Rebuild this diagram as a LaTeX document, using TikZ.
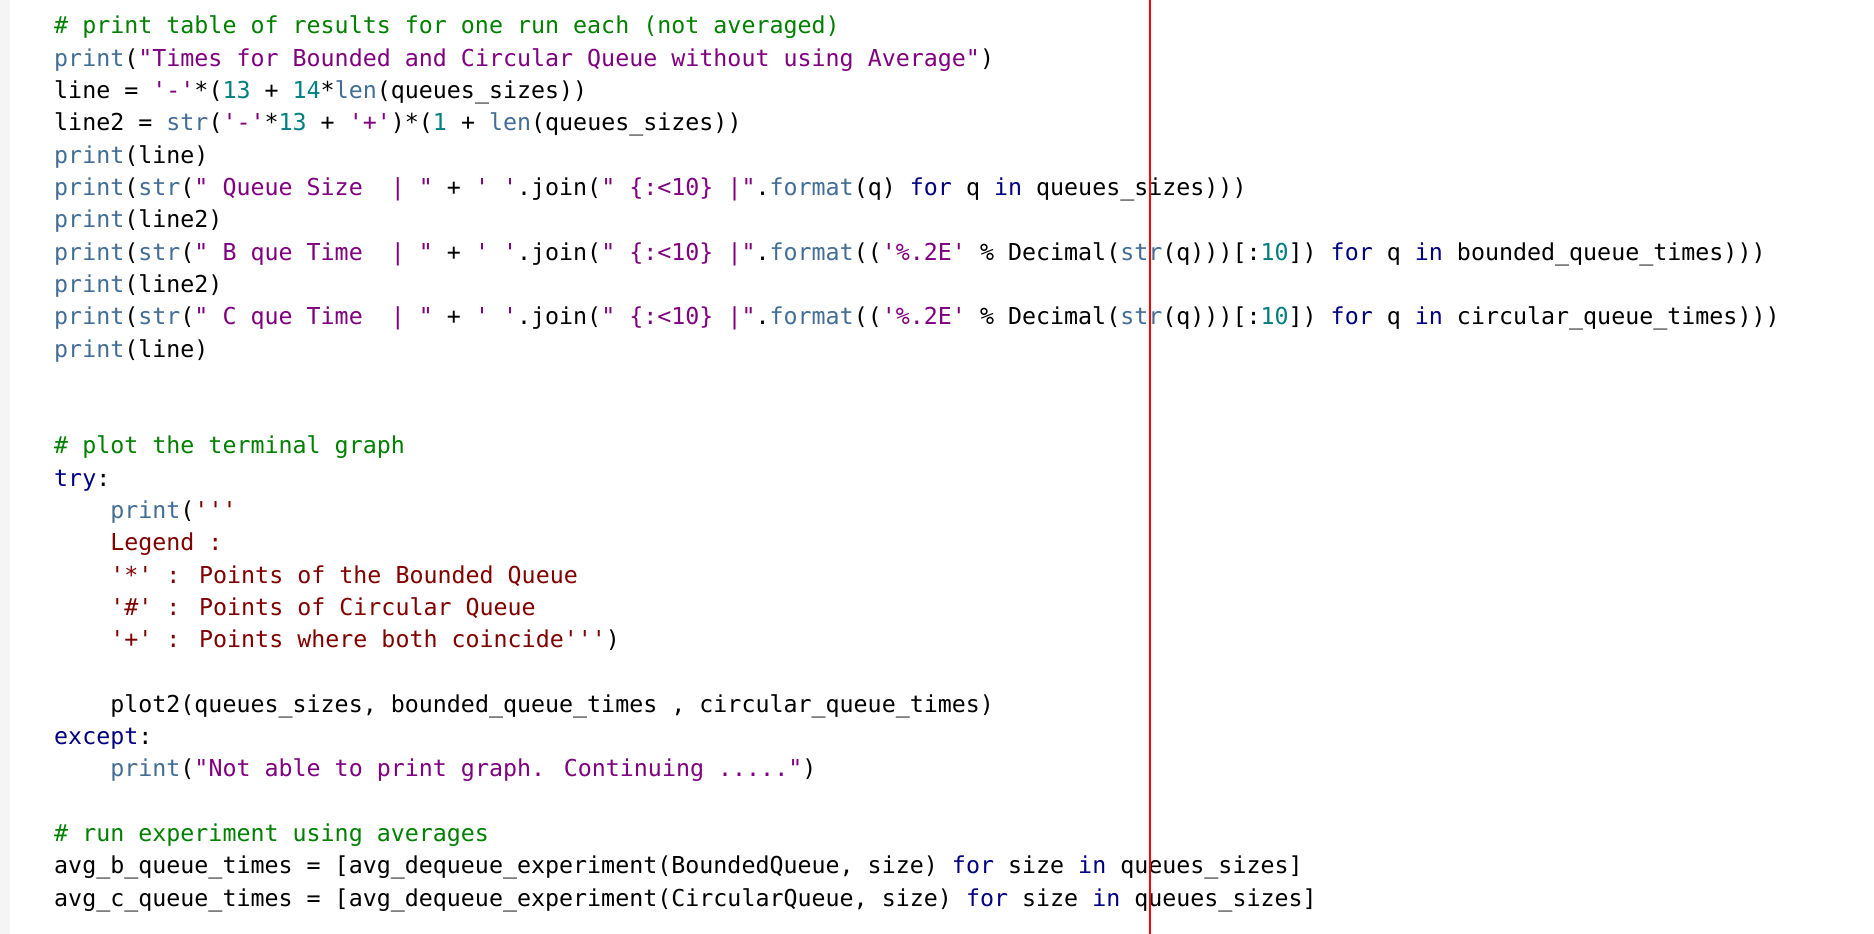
\documentclass[tikz,border=0pt]{standalone}
\usepackage{fontspec}
\newfontfamily\code{DejaVu Sans Mono}
\definecolor{cG}{RGB}{0,128,0}
\definecolor{cP}{RGB}{128,0,128}
\definecolor{cB}{RGB}{66,110,150}
\definecolor{cN}{RGB}{0,128,128}
\definecolor{cK}{RGB}{0,0,128}
\definecolor{cR}{RGB}{128,0,0}
\newcommand\G[1]{\textcolor{cG}{#1}}
\newcommand\Pq[1]{\textcolor{cP}{#1}}
\newcommand\Bf[1]{\textcolor{cB}{#1}}
\newcommand\Nm[1]{\textcolor{cN}{#1}}
\newcommand\Kw[1]{\textcolor{cK}{#1}}
\newcommand\Rs[1]{\textcolor{cR}{#1}}
\begin{document}
\begin{tikzpicture}[x=1pt,y=1pt,
  ln/.style={anchor=base west,inner sep=0,font=\code\fontsize{23.3}{28}\selectfont}]
\useasboundingbox (0,0) rectangle (1874,-934);
\fill[white] (0,0) rectangle (1874,-934);
\fill[gray!8] (0,0) rectangle (10,-934);
\def\L#1#2{\node[ln] (l#1) at (54,{-34-32.3*#1}) {#2};}
\L{0}{\G{\# print table of results for one run each (not averaged)}}
\L{1}{\Bf{print}(\Pq{"Times for Bounded and Circular Queue without using Average"})}
\L{2}{line = \Pq{'-'}*(\Nm{13} + \Nm{14}*\Bf{len}(queues\_sizes))}
\L{3}{line2 = \Bf{str}(\Pq{'-'}*\Nm{13} + \Pq{'+'})*(\Nm{1} + \Bf{len}(queues\_sizes))}
\L{4}{\Bf{print}(line)}
\L{5}{\Bf{print}(\Bf{str}(\Pq{"~Queue Size~~|~"} + \Pq{'~'}.join(\Pq{"~\{:<10\}~|"}.\Bf{format}(q) \Kw{for} q \Kw{in} queues\_sizes)))}
\L{6}{\Bf{print}(line2)}
\L{7}{\Bf{print}(\Bf{str}(\Pq{"~B que Time~~|~"} + \Pq{'~'}.join(\Pq{"~\{:<10\}~|"}.\Bf{format}((\Pq{'\%.2E'} \% Decimal(\Bf{str}(q)))[:\Nm{10}]) \Kw{for} q \Kw{in} bounded\_queue\_times)))}
\L{8}{\Bf{print}(line2)}
\L{9}{\Bf{print}(\Bf{str}(\Pq{"~C que Time~~|~"} + \Pq{'~'}.join(\Pq{"~\{:<10\}~|"}.\Bf{format}((\Pq{'\%.2E'} \% Decimal(\Bf{str}(q)))[:\Nm{10}]) \Kw{for} q \Kw{in} circular\_queue\_times)))}
\L{10}{\Bf{print}(line)}
\L{13}{\G{\# plot the terminal graph}}
\L{14}{\Kw{try}:}
\L{15}{~~~~\Bf{print}(\Rs{'''}}
\L{16}{~~~~\Rs{Legend :}}
\L{17}{~~~~\Rs{'*' : Points of the Bounded Queue}}
\L{18}{~~~~\Rs{'\#' : Points of Circular Queue}}
\L{19}{~~~~\Rs{'+' : Points where both coincide'''})}
\L{21}{~~~~plot2(queues\_sizes, bounded\_queue\_times , circular\_queue\_times)}
\L{22}{\Kw{except}:}
\L{23}{~~~~\Bf{print}(\Pq{"Not able to print graph. Continuing ....."})}
\L{25}{\G{\# run experiment using averages}}
\L{26}{avg\_b\_queue\_times = [avg\_dequeue\_experiment(BoundedQueue, size) \Kw{for} size \Kw{in} queues\_sizes]}
\L{27}{avg\_c\_queue\_times = [avg\_dequeue\_experiment(CircularQueue, size) \Kw{for} size \Kw{in} queues\_sizes]}
\draw[red,line width=1.3pt] (1150,0) -- (1150,-934);
\end{tikzpicture}
\end{document}
